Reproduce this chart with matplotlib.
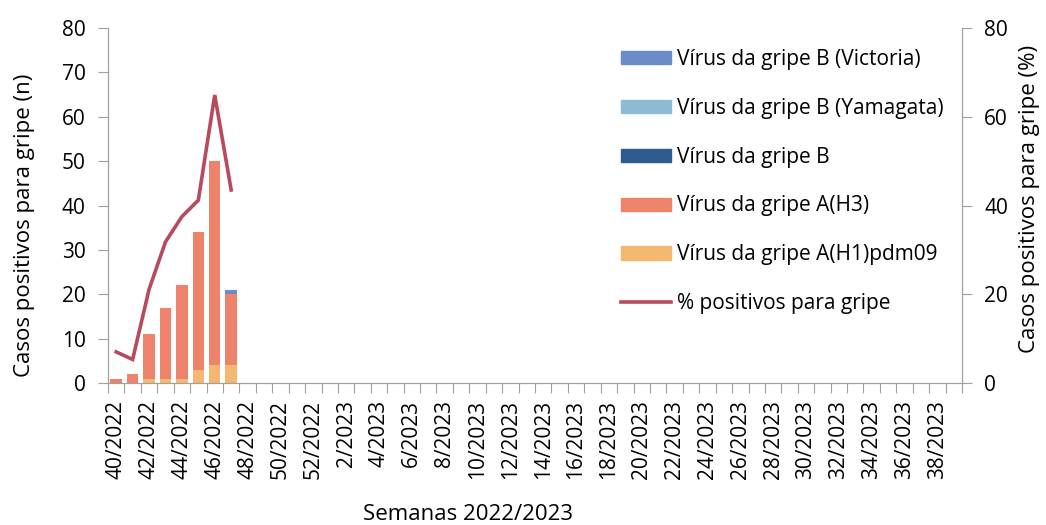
import matplotlib.pyplot as plt
import numpy as np
from matplotlib.patches import Patch
from matplotlib.lines import Line2D

plt.rcParams["font.family"] = ["Open Sans", "DejaVu Sans"]

# weeks 40/2022 .. 39/2023
weeks = [f"{w}/2022" for w in range(40, 53)] + [f"{w}/2023" for w in range(1, 40)]
n = len(weeks)

h1 = [0, 0, 1, 1, 1, 3, 4, 4]
h3 = [1, 2, 10, 16, 21, 31, 46, 16]
b_ = [0, 0, 0, 0, 0, 0, 0, 0]
yam = [0, 0, 0, 0, 0, 0, 0, 0]
vic = [0, 0, 0, 0, 0, 0, 0, 1]
pct = [7.0, 5.3, 21.1, 31.8, 37.5, 41.2, 64.9, 43.5]

series = [
    ("Vírus da gripe A(H1)pdm09", h1, "#F5B870"),
    ("Vírus da gripe A(H3)", h3, "#EE836C"),
    ("Vírus da gripe B", b_, "#2F5B8E"),
    ("Vírus da gripe B (Yamagata)", yam, "#8BBCD4"),
    ("Vírus da gripe B (Victoria)", vic, "#6A8CC7"),
]
line_color = "#B84A5E"
grey = "#A0A0A0"

fig = plt.figure(figsize=(10.46, 5.25), dpi=100)
ax = fig.add_axes([108 / 1046, 1 - 383 / 525, 854 / 1046, 355 / 525])
ax2 = ax.twinx()

x = np.arange(len(h1))
bottom = np.zeros(len(h1))
for label, vals, col in series:
    ax.bar(x, vals, 0.7, bottom=bottom, color=col, zorder=2)
    bottom += np.array(vals)

ax2.plot(x, pct, color=line_color, lw=2.6, solid_joinstyle="miter")

ax.set_xlim(-0.5, n - 0.5)
ax.set_ylim(0, 80)
ax2.set_ylim(0, 80)
ax.set_yticks(range(0, 81, 10))
ax2.set_yticks(range(0, 81, 20))

ax.set_xticks(np.arange(-0.5, n, 1), minor=False)
ax.set_xticklabels([])
ax.set_xticks(np.arange(0, n, 2), minor=True)
ax.set_xticklabels(weeks[::2], minor=True, rotation=90, fontsize=15)
ax.tick_params(axis="x", which="major", length=7, color=grey)
ax.tick_params(axis="x", which="minor", length=0, pad=12)
ax.tick_params(axis="y", labelsize=15, length=7, color=grey, pad=9)
ax2.tick_params(axis="y", labelsize=15, length=7, color=grey, pad=9)

for a in (ax, ax2):
    a.spines["top"].set_visible(False)
    for s in ("left", "right", "bottom"):
        a.spines[s].set_color(grey)

ax.set_ylabel("Casos positivos para gripe (n)", fontsize=16)
ax.yaxis.set_label_coords(-73 / 854, 0.445)
ax2.set_ylabel("Casos positivos para gripe (%)", fontsize=16)
ax2.yaxis.set_label_coords(1 + 57 / 854, 0.518)
ax.set_xlabel("Semanas 2022/2023", fontsize=16)
ax.xaxis.set_label_coords(0.421, -0.342)

handles = [Patch(color=c) for _, _, c in series[::-1]]
labels = [l for l, _, _ in series[::-1]]
handles.append(Line2D([], [], color=line_color, lw=2.6))
labels.append("% positivos para gripe")
fig.legend(handles, labels, loc="upper left", bbox_to_anchor=(602 / 1046, 1 - 30 / 525),
           frameon=False, fontsize=15, labelspacing=1.34, handlelength=2.4,
           handleheight=0.6, handletextpad=0.3)

fig.savefig("out.png", dpi=100)
